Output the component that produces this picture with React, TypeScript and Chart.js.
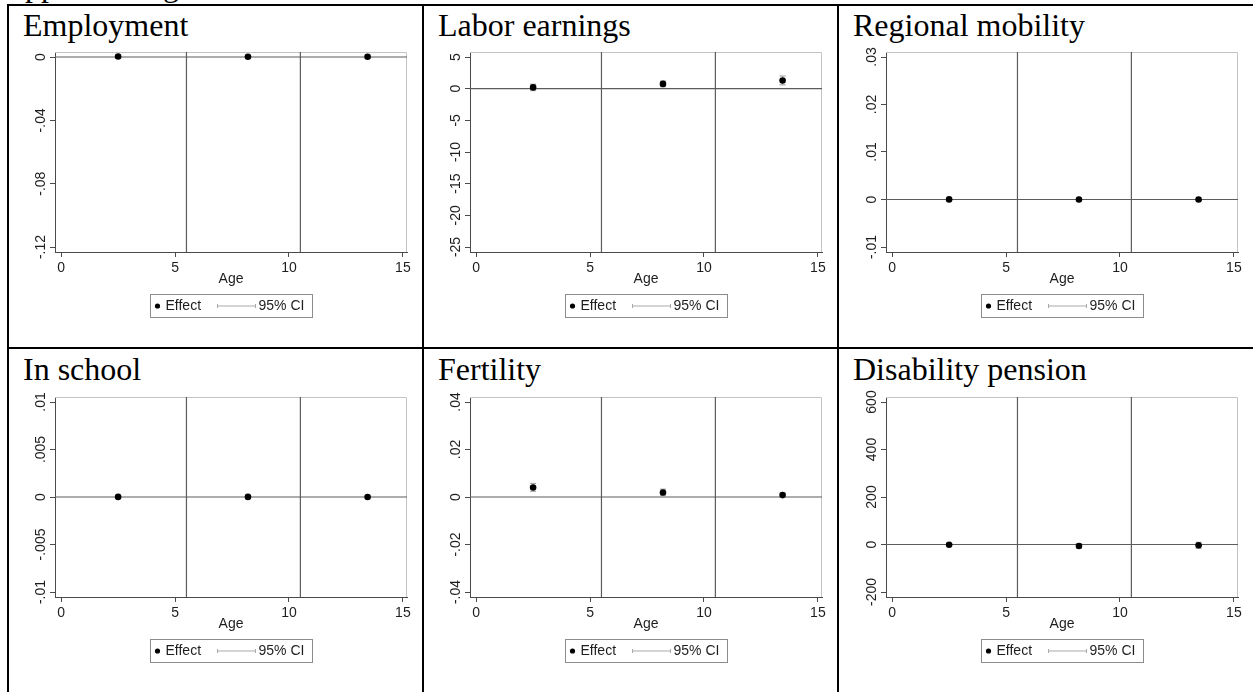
import React, { useEffect, useRef } from "react";
import { Chart, registerables } from "chart.js";

Chart.register(...registerables);

// ---------------- data ----------------
const ageGroupMidpoints = [2.5, 8.2, 13.45];
const ageTicks = [0, 5, 10, 15];
const ageBreaks = [5.5, 10.5];
const xAxisTitle = "Age";
const legendLabels = ["Effect", "95% CI"];
const pageHeading = "Appendix Figure";

const panelTitles = [
  "Employment",
  "Labor earnings",
  "Regional mobility",
  "In school",
  "Fertility",
  "Disability pension",
];

const employmentEffect = [0.0003, 0.0002, 0.0002];
const employmentLow = [-0.0005, -0.0006, -0.0007];
const employmentHigh = [0.0011, 0.001, 0.0011];
const employmentTicks = [-0.12, -0.08, -0.04, 0];
const employmentTickLabels = ["-.12", "-.08", "-.04", "0"];

const earningsEffect = [0.2, 0.75, 1.3];
const earningsLow = [-0.3, 0.3, 0.6];
const earningsHigh = [0.7, 1.2, 2.0];
const earningsTicks = [-25, -20, -15, -10, -5, 0, 5];
const earningsTickLabels = ["-25", "-20", "-15", "-10", "-5", "0", "5"];

const mobilityEffect = [0.00002, 0.00001, 0.00001];
const mobilityLow = [-0.0002, -0.0002, -0.0002];
const mobilityHigh = [0.0002, 0.0002, 0.0002];
const mobilityTicks = [-0.01, 0, 0.01, 0.02, 0.03];
const mobilityTickLabels = ["-.01", "0", ".01", ".02", ".03"];

const schoolEffect = [0.00001, 0.00001, 0.0];
const schoolLow = [-0.00008, -0.00008, -0.00008];
const schoolHigh = [0.0001, 0.0001, 0.00008];
const schoolTicks = [-0.01, -0.005, 0, 0.005, 0.01];
const schoolTickLabels = ["-.01", "-.005", "0", ".005", ".01"];

const fertilityEffect = [0.004, 0.0019, 0.0008];
const fertilityLow = [0.0024, 0.0007, 0.0002];
const fertilityHigh = [0.0057, 0.0033, 0.0015];
const fertilityTicks = [-0.04, -0.02, 0, 0.02, 0.04];
const fertilityTickLabels = ["-.04", "-.02", "0", ".02", ".04"];

const disabilityEffect = [-1, -6, -3];
const disabilityLow = [-5, -15, -16];
const disabilityHigh = [3, 3, 9];
const disabilityTicks = [-200, 0, 200, 400, 600];
const disabilityTickLabels = ["-200", "0", "200", "400", "600"];

// ---------------- styling ----------------
const SANS = '"Liberation Sans", Arial, "DejaVu Sans", sans-serif';
const SERIF = '"Liberation Serif", "Times New Roman", serif';
const TEXT = "#1e1e1e";
const AXIS = "#4a4a4a";
const OUTLINE = "#c4c4c4";
const REFLINE = "#5c5c5c";
const CI_COLOR = "#a9a9a9";

type PanelDef = {
  title: string;
  effect: number[];
  low: number[];
  high: number[];
  ticks: number[];
  tickLabels: string[];
};

const panels: PanelDef[] = [
  { title: panelTitles[0], effect: employmentEffect, low: employmentLow, high: employmentHigh, ticks: employmentTicks, tickLabels: employmentTickLabels },
  { title: panelTitles[1], effect: earningsEffect, low: earningsLow, high: earningsHigh, ticks: earningsTicks, tickLabels: earningsTickLabels },
  { title: panelTitles[2], effect: mobilityEffect, low: mobilityLow, high: mobilityHigh, ticks: mobilityTicks, tickLabels: mobilityTickLabels },
  { title: panelTitles[3], effect: schoolEffect, low: schoolLow, high: schoolHigh, ticks: schoolTicks, tickLabels: schoolTickLabels },
  { title: panelTitles[4], effect: fertilityEffect, low: fertilityLow, high: fertilityHigh, ticks: fertilityTicks, tickLabels: fertilityTickLabels },
  { title: panelTitles[5], effect: disabilityEffect, low: disabilityLow, high: disabilityHigh, ticks: disabilityTicks, tickLabels: disabilityTickLabels },
];

const CW = 415;
const CH = 290;
const AREA_LEFT = 50;
const AREA_TOP = 10;
const AREA_W = 352;
const AREA_H = 200;

function Panel({ p, left, top }: { p: PanelDef; left: number; top: number }) {
  const ref = useRef<HTMLCanvasElement | null>(null);

  useEffect(() => {
    const canvas = ref.current;
    if (!canvas) return;
    const tMin = Math.min(...p.ticks);
    const tMax = Math.max(...p.ticks);
    const span = tMax - tMin;
    const yMin = tMin - (span * 5) / 190;
    const yMax = tMax + (span * 5) / 190;
    const xMin = -0.27;
    const xMax = 15.18;

    const effectData = ageGroupMidpoints.map((x, i) => ({ x, y: p.effect[i] }));
    const ciData: { x: number; y: number | null }[] = [];
    ageGroupMidpoints.forEach((x, i) => {
      ciData.push({ x, y: p.low[i] }, { x, y: p.high[i] }, { x, y: null });
    });

    const refLine = (data: { x: number; y: number }[], order: number) => ({
      data,
      order,
      showLine: true,
      borderColor: REFLINE,
      borderWidth: 1.2,
      pointRadius: 0,
      fill: false,
    });

    const decor = {
      id: "stataDecor",
      beforeDatasetsDraw(chart: any) {
        const { ctx, chartArea: a } = chart;
        ctx.save();
        ctx.strokeStyle = OUTLINE;
        ctx.lineWidth = 1;
        ctx.beginPath();
        ctx.moveTo(a.left, a.top + 0.5);
        ctx.lineTo(a.right - 0.5, a.top + 0.5);
        ctx.lineTo(a.right - 0.5, a.bottom);
        ctx.stroke();
        ctx.restore();
      },
      afterDraw(chart: any) {
        const { ctx, chartArea: a } = chart;
        const ys = chart.scales.y;
        ctx.save();
        // rotated y tick labels (Stata style)
        ctx.font = `14px ${SANS}`;
        ctx.fillStyle = TEXT;
        ctx.textAlign = "center";
        ctx.textBaseline = "middle";
        p.ticks.forEach((v, i) => {
          const py = ys.getPixelForValue(v);
          ctx.save();
          ctx.translate(a.left - 13.5, py);
          ctx.rotate(-Math.PI / 2);
          ctx.fillText(p.tickLabels[i], 0, 0);
          ctx.restore();
        });
        // legend box
        const bw = 162;
        const bh = 23;
        const bx = Math.round((a.left + a.right) / 2 - bw / 2) + 0.5;
        const by = Math.round(a.bottom + 42) + 0.5;
        ctx.fillStyle = "#ffffff";
        ctx.fillRect(bx, by, bw, bh);
        ctx.strokeStyle = "#8c8c8c";
        ctx.lineWidth = 1;
        ctx.strokeRect(bx, by, bw, bh);
        const cy = by + bh / 2;
        ctx.fillStyle = "#000";
        ctx.beginPath();
        ctx.arc(bx + 7, cy, 2.6, 0, Math.PI * 2);
        ctx.fill();
        ctx.fillStyle = TEXT;
        ctx.textAlign = "left";
        ctx.textBaseline = "middle";
        ctx.font = `14px ${SANS}`;
        ctx.fillText(legendLabels[0], bx + 15, cy);
        ctx.strokeStyle = CI_COLOR;
        ctx.lineWidth = 1;
        ctx.beginPath();
        ctx.moveTo(bx + 67, cy);
        ctx.lineTo(bx + 105, cy);
        ctx.moveTo(bx + 67, cy - 2);
        ctx.lineTo(bx + 67, cy + 2);
        ctx.moveTo(bx + 105, cy - 2);
        ctx.lineTo(bx + 105, cy + 2);
        ctx.stroke();
        ctx.fillText(legendLabels[1], bx + 108, cy);
        ctx.restore();
      },
    };

    const chart = new Chart(canvas, {
      type: "scatter",
      data: {
        datasets: [
          {
            label: legendLabels[0],
            data: effectData,
            order: 0,
            showLine: false,
            pointRadius: 3.3,
            pointBackgroundColor: "#000",
            pointBorderColor: "#000",
            pointBorderWidth: 0,
          },
          {
            label: legendLabels[1],
            data: ciData,
            order: 1,
            showLine: true,
            spanGaps: false,
            borderColor: CI_COLOR,
            borderWidth: 1.2,
            pointStyle: "line",
            pointRadius: 3,
            pointBorderColor: CI_COLOR,
            pointBorderWidth: 1.2,
          },
          refLine([{ x: ageBreaks[0], y: yMin }, { x: ageBreaks[0], y: yMax }], 2),
          refLine([{ x: ageBreaks[1], y: yMin }, { x: ageBreaks[1], y: yMax }], 3),
          refLine([{ x: xMin, y: 0 }, { x: xMax, y: 0 }], 4),
        ] as any,
      },
      options: {
        animation: false,
        responsive: false,
        events: [],
        layout: { padding: { left: 0, top: AREA_TOP, right: CW - AREA_LEFT - AREA_W, bottom: 0 } },
        plugins: { legend: { display: false }, tooltip: { enabled: false } },
        scales: {
          x: {
            type: "linear",
            position: "bottom",
            min: xMin,
            max: xMax,
            afterBuildTicks: (s: any) => {
              s.ticks = ageTicks.map((v) => ({ value: v }));
            },
            afterFit: (s: any) => {
              s.height = CH - AREA_TOP - AREA_H;
            },
            ticks: {
              font: { family: SANS, size: 14 },
              color: TEXT,
              padding: 3,
              maxRotation: 0,
              autoSkip: false,
            },
            grid: { drawOnChartArea: false, drawTicks: true, tickLength: 5, color: AXIS, lineWidth: 1 },
            border: { display: true, color: AXIS, width: 1 },
            title: {
              display: true,
              text: xAxisTitle,
              font: { family: SANS, size: 14 },
              color: TEXT,
              padding: { top: 0, bottom: 44.8 },
            },
          },
          y: {
            type: "linear",
            position: "left",
            min: yMin,
            max: yMax,
            afterBuildTicks: (s: any) => {
              s.ticks = p.ticks.map((v) => ({ value: v }));
            },
            afterFit: (s: any) => {
              s.width = AREA_LEFT;
            },
            ticks: { display: false },
            grid: { drawOnChartArea: false, drawTicks: true, tickLength: 5, color: AXIS, lineWidth: 1 },
            border: { display: true, color: AXIS, width: 1 },
          },
        },
      } as any,
      plugins: [decor],
    });
    return () => chart.destroy();
  }, [p]);

  return (
    <canvas
      ref={ref}
      width={CW}
      height={CH}
      style={{ position: "absolute", left, top, width: CW, height: CH }}
    />
  );
}

const plotLefts = [55, 470, 886];
const plotTops = [52, 397];
const titleLefts = [23, 438, 853];
const titleBaselines = [36, 380];

export default function App() {
  const line = (left: number, top: number, width: number, height: number, key: string) => (
    <div key={key} style={{ position: "absolute", left, top, width, height, background: "#000" }} />
  );
  return (
    <div
      style={{
        position: "absolute",
        left: 0,
        top: 0,
        width: 1253,
        height: 692,
        overflow: "hidden",
        background: "#fff",
      }}
    >
      <div
        style={{
          position: "absolute",
          left: 2,
          top: -4 - 26.8,
          fontFamily: SERIF,
          fontSize: 32,
          lineHeight: "32px",
          whiteSpace: "nowrap",
          color: "#000",
        }}
      >
        {pageHeading}
      </div>
      {line(7, 4, 1253 - 7, 2, "top")}
      {line(7, 4, 2, 692, "left")}
      {line(422, 4, 2, 692, "c1")}
      {line(837, 4, 2, 692, "c2")}
      {line(7, 347, 1253 - 7, 2, "r1")}
      {panels.map((p, i) => {
        const col = i % 3;
        const row = Math.floor(i / 3);
        return (
          <div
            key={"t" + i}
            style={{
              position: "absolute",
              left: titleLefts[col],
              top: titleBaselines[row] - 26.8,
              fontFamily: SERIF,
              fontSize: 32,
              lineHeight: "32px",
              whiteSpace: "nowrap",
              color: "#000",
            }}
          >
            {p.title}
          </div>
        );
      })}
      {panels.map((p, i) => {
        const col = i % 3;
        const row = Math.floor(i / 3);
        return (
          <Panel
            key={"p" + i}
            p={p}
            left={plotLefts[col] - AREA_LEFT}
            top={plotTops[row] - AREA_TOP}
          />
        );
      })}
    </div>
  );
}
